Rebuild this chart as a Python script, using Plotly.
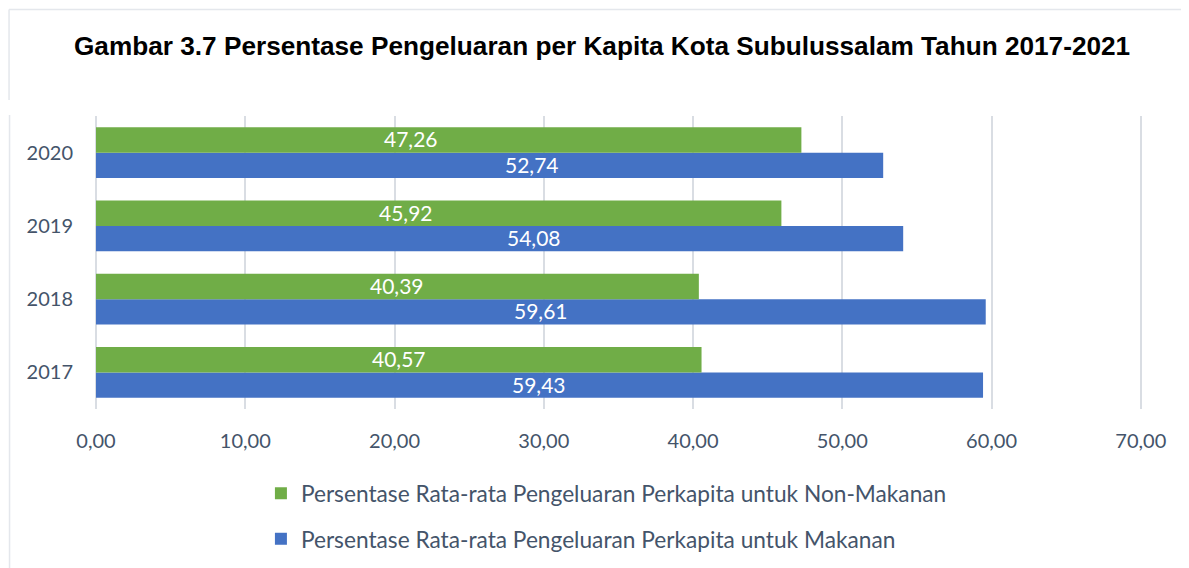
import plotly.graph_objects as go

# ---- data ----
years = ["2017", "2018", "2019", "2020"]
makanan = [59.43, 59.61, 54.08, 52.74]
non_makanan = [40.57, 40.39, 45.92, 47.26]
label_makanan = ["59,43", "59,61", "54,08", "52,74"]
label_non_makanan = ["40,57", "40,39", "45,92", "47,26"]
# where the value labels sit along the x axis (as in the reference)
label_x_makanan = [29.70, 29.81, 29.36, 29.23]
label_x_non_makanan = [20.29, 20.19, 20.78, 21.12]
x_ticks = [0, 10, 20, 30, 40, 50, 60, 70]

name_makanan = "Persentase Rata-rata Pengeluaran Perkapita untuk Makanan"
name_non = "Persentase Rata-rata Pengeluaran Perkapita untuk Non-Makanan"
title = "Gambar 3.7 Persentase Pengeluaran per Kapita Kota Subulussalam Tahun 2017-2021"

FONT = "Lato, 'Open Sans', sans-serif"
TXT = "#44546A"
GRID = "#D9DDE3"

OFF = 8  # page body margin of the html page
W, H = 1189 - OFF, 568 - OFF
# plot area in page pixels: x 96..1142.5, y 116..409
L = 96 - OFF
T = 116 - OFF
R = W - (1142.5 - OFF)
B = H - (409 - OFF)
pw, ph = W - L - R, H - T - B


def px(xp):  # page pixel -> paper x
    return (xp - OFF - L) / pw


def py(yp):  # page pixel -> paper y
    return (H - B - (yp - OFF)) / ph


fig = go.Figure()
fig.add_trace(go.Bar(y=years, x=makanan, orientation="h", name=name_makanan,
                     marker=dict(color="#4472C4", line=dict(width=0)),
                     legendgroup="m", legendrank=2, hoverinfo="x+y"))
fig.add_trace(go.Bar(y=years, x=non_makanan, orientation="h", name=name_non,
                     marker=dict(color="#70AD47", line=dict(width=0)),
                     legendgroup="n", legendrank=1, hoverinfo="x+y"))

bargap = 0.304
off = (1 - bargap) / 4  # centre offset of each bar inside its group (category units)
annotations = []
for i, yr in enumerate(years):
    annotations.append(dict(x=label_x_non_makanan[i], y=i + off, xref="x", yref="y",
                            text=label_non_makanan[i], showarrow=False, yshift=1,
                            font=dict(family=FONT, size=21, color="white")))
    annotations.append(dict(x=label_x_makanan[i], y=i - off, xref="x", yref="y",
                            text=label_makanan[i], showarrow=False, yshift=1,
                            font=dict(family=FONT, size=21, color="white")))

annotations.append(dict(x=px(602), y=py(46), xref="paper", yref="paper", text="<b>" + title + "</b>",
                        showarrow=False, xanchor="center", yanchor="middle",
                        font=dict(family="'Liberation Sans Narrow', 'Arial Narrow', 'Liberation Sans', sans-serif",
                                  size=26.2, color="black")))

frame = dict(color="#E4E7EC", width=1.5)
shapes = [
    dict(type="line", xref="paper", yref="paper", x0=px(9), x1=px(1189), y0=py(9.5), y1=py(9.5), line=frame),
    dict(type="line", xref="paper", yref="paper", x0=px(9), x1=px(9), y0=py(9.5), y1=py(100), line=frame),
    dict(type="line", xref="paper", yref="paper", x0=px(9.5), x1=px(9.5), y0=py(115), y1=py(568), line=frame),
]

fig.update_layout(
    width=W, height=H,
    margin=dict(l=L, r=R, t=T, b=B, pad=0, autoexpand=False),
    paper_bgcolor="white", plot_bgcolor="white",
    separators=",.",
    barmode="group", bargap=bargap, bargroupgap=0,
    font=dict(family=FONT, size=20, color=TXT),
    showlegend=True,
    legend=dict(orientation="v", traceorder="grouped", tracegroupgap=13,
                x=px(261), y=py(472), xanchor="left", yanchor="top",
                font=dict(family=FONT, size=22.7, color=TXT), bgcolor="rgba(0,0,0,0)",
                itemwidth=30),
    annotations=annotations,
    shapes=shapes,
    xaxis=dict(range=[0, 70.08], tickvals=x_ticks, tickformat=".2f", automargin=False,
               showgrid=True, gridcolor=GRID, gridwidth=2,
               zeroline=True, zerolinecolor=GRID, zerolinewidth=2,
               showline=False, ticks="", ticklabelstandoff=18,
               tickfont=dict(family=FONT, size=20, color=TXT), fixedrange=True),
    yaxis=dict(type="category", categoryorder="array", categoryarray=years,
               range=[-0.5, len(years) - 0.5], automargin=False,
               showgrid=False, zeroline=False, showline=False, ticks="",
               ticklabelstandoff=22,
               tickfont=dict(family=FONT, size=20, color=TXT), fixedrange=True),
)

fig.write_html("out.html")
